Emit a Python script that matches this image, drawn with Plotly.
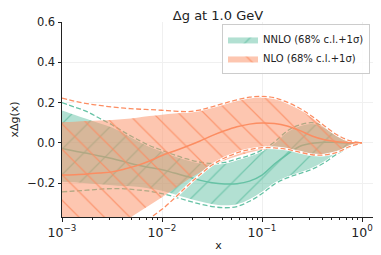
import plotly.graph_objects as go

# x grid (log-spaced, 1e-3 .. 1)
x_vals = [0.001, 0.00133, 0.00178, 0.00237, 0.00316, 0.00422, 0.00562, 0.0075,
          0.01, 0.0133, 0.0178, 0.0237, 0.0316, 0.0422, 0.0562, 0.075,
          0.1, 0.133, 0.178, 0.237, 0.316, 0.422, 0.562, 0.75, 1.0]

# NNLO
nnlo_central = [-0.028, -0.040, -0.052, -0.065, -0.078, -0.094, -0.110, -0.122,
                -0.133, -0.150, -0.167, -0.185, -0.198, -0.204, -0.203, -0.190,
                -0.160, -0.105, -0.058, -0.018, -0.002, 0.003, 0.002, 0.0, 0.0]
nnlo_cl_up = [0.161, 0.140, 0.118, 0.097, 0.076, 0.045, 0.015, -0.016,
              -0.040, -0.062, -0.082, -0.097, -0.105, -0.100, -0.083, -0.065,
              -0.040, 0.000, 0.056, 0.086, 0.097, 0.078, 0.038, 0.010, 0.0]
nnlo_cl_lo = [-0.193, -0.196, -0.200, -0.205, -0.210, -0.214, -0.218, -0.226,
              -0.238, -0.255, -0.274, -0.290, -0.303, -0.310, -0.305, -0.280,
              -0.243, -0.200, -0.170, -0.150, -0.128, -0.095, -0.053, -0.020, 0.0]
nnlo_sig_up = [0.200, 0.178, 0.155, 0.122, 0.090, 0.052, 0.018, -0.013,
               -0.037, -0.060, -0.080, -0.095, -0.102, -0.097, -0.080, -0.062,
               -0.036, 0.004, 0.059, 0.089, 0.100, 0.081, 0.040, 0.011, 0.0]
nnlo_sig_lo = [-0.243, -0.239, -0.235, -0.230, -0.227, -0.228, -0.233, -0.240,
               -0.252, -0.268, -0.286, -0.303, -0.316, -0.322, -0.316, -0.290,
               -0.252, -0.205, -0.174, -0.153, -0.131, -0.098, -0.055, -0.021, 0.0]

# NLO
nlo_central = [-0.160, -0.158, -0.155, -0.150, -0.144, -0.130, -0.113, -0.090,
               -0.063, -0.040, -0.017, 0.008, 0.036, 0.060, 0.080, 0.093,
               0.099, 0.096, 0.084, 0.062, 0.034, 0.015, 0.005, 0.001, 0.0]
nlo_cl_up = [0.103, 0.105, 0.108, 0.111, 0.114, 0.119, 0.125, 0.133,
             0.140, 0.146, 0.152, 0.162, 0.178, 0.195, 0.212, 0.225,
             0.229, 0.222, 0.200, 0.170, 0.130, 0.082, 0.038, 0.010, 0.0]
nlo_cl_lo = [-0.620, -0.570, -0.520, -0.470, -0.430, -0.390, -0.350, -0.310,
             -0.270, -0.228, -0.185, -0.148, -0.115, -0.088, -0.067, -0.048,
             -0.034, -0.029, -0.033, -0.045, -0.057, -0.058, -0.045, -0.018, 0.0]
nlo_sig_up = [0.222, 0.207, 0.195, 0.186, 0.178, 0.172, 0.168, 0.165,
              0.162, 0.158, 0.155, 0.163, 0.179, 0.197, 0.214, 0.227,
              0.231, 0.224, 0.202, 0.172, 0.132, 0.084, 0.040, 0.011, 0.0]
nlo_sig_lo = [-0.750, -0.690, -0.640, -0.585, -0.530, -0.475, -0.420, -0.375,
              -0.330, -0.275, -0.215, -0.160, -0.110, -0.075, -0.050, -0.033,
              -0.024, -0.025, -0.032, -0.046, -0.059, -0.060, -0.047, -0.019, 0.0]

# axis ticks
x_tick_vals = [0.001, 0.01, 0.1, 1.0]
x_tick_text = ["10<sup>−3</sup>", "10<sup>−2</sup>", "10<sup>−1</sup>", "10<sup>0</sup>"]
y_tick_vals = [-0.2, 0.0, 0.2, 0.4, 0.6]

GREEN = "#66c2a5"
ORANGE = "#fc8d62"

fig = go.Figure()


def add_set(name, color, fill_rgba, shape, cl_up, cl_lo, sig_up, sig_lo, central, rank):
    fig.add_trace(go.Scatter(x=x_vals, y=cl_up, mode="lines", line=dict(width=0, shape="spline"),
                             showlegend=False, hoverinfo="skip"))
    fig.add_trace(go.Scatter(x=x_vals, y=cl_lo, mode="lines", line=dict(width=0, shape="spline"),
                             fill="tonexty", fillcolor=fill_rgba,
                             fillpattern=dict(shape=shape, fgcolor=color, fgopacity=0.8,
                                              size=18, solidity=0.07, fillmode="overlay"),
                             name=name, showlegend=True, legendrank=rank))
    for arr in (sig_up, sig_lo):
        fig.add_trace(go.Scatter(x=x_vals, y=arr, mode="lines",
                                 line=dict(color="white", width=2.6, shape="spline"),
                                 showlegend=False, hoverinfo="skip"))
        fig.add_trace(go.Scatter(x=x_vals, y=arr, mode="lines",
                                 line=dict(color=color, width=1.3, dash="5px,2.5px", shape="spline"),
                                 showlegend=False, hoverinfo="skip"))
    fig.add_trace(go.Scatter(x=x_vals, y=central, mode="lines",
                             line=dict(color=color, width=1.5, shape="spline"),
                             showlegend=False, hoverinfo="skip"))


add_set("NNLO (68% c.l.+1σ)", GREEN, "rgba(102,194,165,0.5)", "/",
        nnlo_cl_up, nnlo_cl_lo, nnlo_sig_up, nnlo_sig_lo, nnlo_central, 1)
add_set("NLO (68% c.l.+1σ)", ORANGE, "rgba(252,141,98,0.5)", "\\",
        nlo_cl_up, nlo_cl_lo, nlo_sig_up, nlo_sig_lo, nlo_central, 2)

# The page body has an 8px default margin, so the figure is 8px smaller than the window.
fig.update_layout(
    width=373, height=247,
    margin=dict(l=46, r=6, t=14, b=38),
    paper_bgcolor="white", plot_bgcolor="white",
    font=dict(family="DejaVu Sans", size=11.5, color="#222"),
    title=dict(text="Δg at 1.0 GeV", x=0.563, xanchor="center", y=0.989, yanchor="top",
               font=dict(size=13, color="#222")),
    legend=dict(x=0.984, y=0.99, xanchor="right", yanchor="top", traceorder="normal",
                bgcolor="rgba(255,255,255,0.85)", bordercolor="#cccccc", borderwidth=1,
                font=dict(size=10), tracegroupgap=0, itemwidth=30),
    showlegend=True,
)
fig.update_xaxes(type="log", range=[-3, 0.13], tickvals=x_tick_vals, ticktext=x_tick_text,
                 tickfont=dict(size=12.5),
                 showline=True, linecolor="#222", linewidth=1, mirror=False,
                 ticks="outside", ticklen=3.5, tickcolor="#222",
                 showgrid=True, gridcolor="#f0f0f0", gridwidth=1, zeroline=False,
                 minor=dict(ticks="outside", ticklen=2, tickcolor="#222", dtick="D1", showgrid=False),
                 title=dict(text="x", standoff=2, font=dict(size=11)))
fig.update_yaxes(range=[-0.368, 0.6], tickvals=y_tick_vals, tickformat=".1f",
                 showline=True, linecolor="#222", linewidth=1,
                 ticks="outside", ticklen=3.5, tickcolor="#222",
                 showgrid=True, gridcolor="#f0f0f0", gridwidth=1, zeroline=False,
                 title=dict(text="xΔg(x)", standoff=6, font=dict(size=11)))

fig.write_html("out.html")
